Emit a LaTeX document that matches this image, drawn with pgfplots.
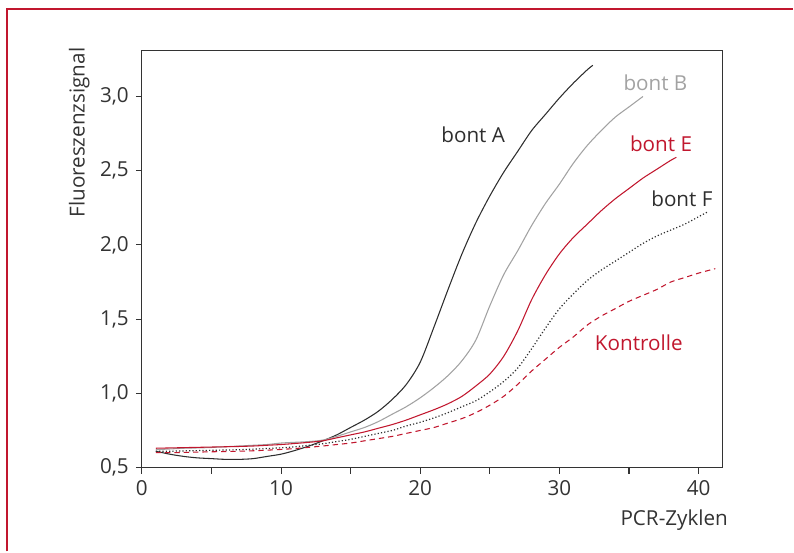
\documentclass[border=0pt]{standalone}
\usepackage{fontspec}
\setmainfont{Open Sans}
\usepackage{pgfplots}
\pgfplotsset{compat=1.18}

\definecolor{axisgray}{HTML}{333333}
\definecolor{bontA}{HTML}{2E2E2E}
\definecolor{bontB}{HTML}{A2A2A2}
\definecolor{bred}{HTML}{C1172E}

\begin{document}
\fontsize{15.5}{18}\selectfont
\begin{tikzpicture}
\begin{axis}[
  scale only axis,
  width=435.75pt, height=312.75pt,
  xmin=0, xmax=41.7,
  ymin=0.5, ymax=3.307,
  xtick={0,5,...,40},
  xticklabels={0,,10,,20,,30,,40},
  ytick={0.5,1,...,3},
  tick pos=left,
  tick align=outside,
  major tick length=4.5pt,
  axis line style={axisgray, line width=0.8pt},
  every tick/.style={axisgray, line width=0.8pt},
  tick label style={font=\fontsize{15.5}{18}\selectfont, text=axisgray},
  /pgf/number format/assume math mode=true,
  yticklabel style={/pgf/number format/.cd, use comma, fixed, fixed zerofill, precision=1},
  xlabel={PCR-Zyklen},
  ylabel={Fluoreszenzsignal},
  label style={font=\fontsize{15.5}{18}\selectfont, text=axisgray},
  xlabel style={at={(axis description cs:1.022,-0.085)}, anchor=north east},
  ylabel style={at={(axis description cs:-0.108,1.025)}, anchor=east},
  clip=false,
]
% bont A
\addplot[bontA, line width=0.8pt, smooth] coordinates {
(1,0.61)(2,0.59)(3,0.575)(4,0.565)(5,0.56)(6,0.555)(7,0.555)(8,0.56)(9,0.575)(10,0.59)
(11,0.615)(12,0.645)(13,0.68)(14,0.72)(15,0.77)(16,0.82)(17,0.88)(18,0.96)(19,1.06)(20,1.21)
(21,1.45)(22,1.70)(23,1.94)(24,2.15)(25,2.33)(26,2.49)(27,2.63)(28,2.77)(29,2.88)(30,2.99)
(31,3.09)(32,3.18)(32.4,3.21)};
% bont B
\addplot[bontB, line width=0.8pt, smooth] coordinates {
(1,0.62)(2,0.625)(3,0.63)(4,0.632)(5,0.635)(6,0.64)(7,0.645)(8,0.65)(9,0.655)(10,0.665)
(11,0.67)(12,0.675)(13,0.685)(14,0.71)(15,0.74)(16,0.77)(17,0.81)(18,0.86)(19,0.91)(20,0.97)
(21,1.04)(22,1.12)(23,1.22)(24,1.36)(25,1.59)(26,1.80)(27,1.96)(28,2.13)(29,2.28)(30,2.41)
(31,2.55)(32,2.67)(33,2.77)(34,2.86)(35,2.93)(36,3.00)};
% bont E
\addplot[bred, line width=0.8pt, smooth] coordinates {
(1,0.63)(2,0.632)(3,0.634)(4,0.636)(5,0.638)(6,0.64)(7,0.642)(8,0.645)(9,0.65)(10,0.655)
(11,0.662)(12,0.67)(13,0.68)(14,0.70)(15,0.72)(16,0.74)(17,0.765)(18,0.79)(19,0.82)(20,0.855)
(21,0.89)(22,0.93)(23,0.98)(24,1.05)(25,1.13)(26,1.25)(27,1.42)(28,1.63)(29,1.80)(30,1.94)
(31,2.05)(32,2.14)(33,2.23)(34,2.31)(35,2.38)(36,2.45)(37,2.51)(38,2.57)(38.4,2.59)};
% bont F
\addplot[bontA, line width=0.9pt, dash pattern=on 0.9pt off 1.6pt, smooth] coordinates {
(1,0.61)(2,0.61)(3,0.612)(4,0.614)(5,0.616)(6,0.618)(7,0.62)(8,0.624)(9,0.628)(10,0.633)
(11,0.64)(12,0.65)(13,0.66)(14,0.675)(15,0.69)(16,0.71)(17,0.73)(18,0.75)(19,0.78)(20,0.805)
(21,0.835)(22,0.87)(23,0.91)(24,0.95)(25,1.01)(26,1.08)(27,1.17)(28,1.30)(29,1.44)(30,1.57)
(31,1.67)(32,1.76)(33,1.83)(34,1.89)(35,1.95)(36,2.01)(37,2.06)(38,2.10)(39,2.14)(40,2.19)
(40.6,2.22)};
% Kontrolle
\addplot[bred, line width=0.8pt, dash pattern=on 4pt off 3pt, smooth] coordinates {
(1,0.60)(2,0.60)(3,0.602)(4,0.604)(5,0.606)(6,0.608)(7,0.61)(8,0.613)(9,0.617)(10,0.622)
(11,0.628)(12,0.636)(13,0.645)(14,0.655)(15,0.665)(16,0.68)(17,0.695)(18,0.71)(19,0.73)(20,0.75)
(21,0.77)(22,0.80)(23,0.83)(24,0.87)(25,0.92)(26,0.98)(27,1.06)(28,1.15)(29,1.23)(30,1.31)
(31,1.38)(32,1.46)(33,1.52)(34,1.57)(35,1.62)(36,1.66)(37,1.70)(38,1.75)(39,1.78)(40,1.81)
(41.2,1.84)};
\node[text=bontA] at (axis cs:23.8,2.74) {bont A};
\node[text=bontB] at (axis cs:36.9,3.09) {bont B};
\node[text=bred] at (axis cs:37.3,2.68) {bont E};
\node[text=bontA] at (axis cs:38.8,2.31) {bont F};
\node[text=bred] at (axis cs:35.7,1.34) {Kontrolle};
\end{axis}
\draw[bred, line width=1.2pt] (-101.25pt,-63pt) -- (-101.25pt,344.25pt) -- (489pt,344.25pt);
\path[use as bounding box] (-106.5pt,-63pt) rectangle (489pt,351pt);
\end{tikzpicture}
\end{document}
